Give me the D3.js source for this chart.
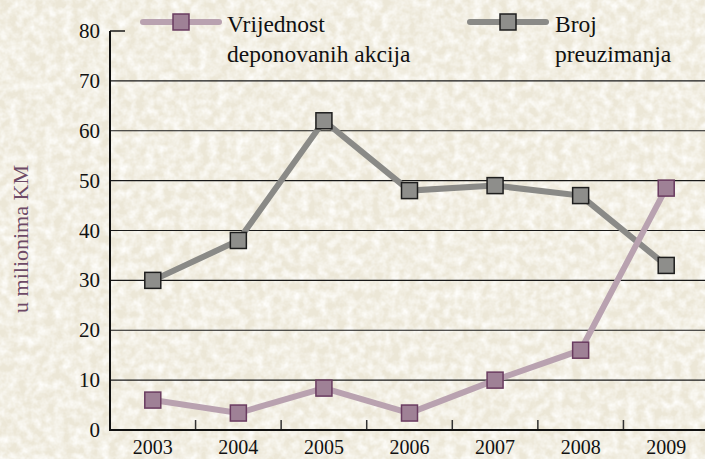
<!DOCTYPE html>
<html>
<head>
<meta charset="utf-8">
<script src="https://cdn.jsdelivr.net/npm/d3@7"></script>
<style>
  body { margin: 0; background: #eee9d9; }
  svg { display: block; }
  text { font-family: "Liberation Serif", "DejaVu Serif", serif; }
</style>
</head>
<body>
<svg id="chart" width="705" height="459"></svg>
<script>
// chart data
var years = ["2003", "2004", "2005", "2006", "2007", "2008", "2009"];
var vrijednost = [6, 3.4, 8.4, 3.4, 10, 16, 48.5];
var broj = [30, 38, 62, 48, 49, 47, 33];
var yTicks = [0, 10, 20, 30, 40, 50, 60, 70, 80];

var svg = d3.select("#chart");

// textured paper background
var defs = svg.append("defs");
var f = defs.append("filter").attr("id", "paper")
    .attr("x", 0).attr("y", 0).attr("width", "100%").attr("height", "100%");
f.append("feTurbulence")
    .attr("type", "fractalNoise")
    .attr("baseFrequency", 0.11)
    .attr("numOctaves", 3)
    .attr("seed", 4)
    .attr("result", "noise");
f.append("feColorMatrix")
    .attr("in", "noise")
    .attr("type", "matrix")
    .attr("values", "0 0 0 0 0.99  0 0 0 0 0.985  0 0 0 0 0.96  0 0 0 1.8 -0.55");

svg.append("rect").attr("width", 705).attr("height", 459).attr("fill", "#ece7d7");
svg.append("rect").attr("width", 705).attr("height", 459).attr("filter", "url(#paper)");

//scales
var x = d3.scaleBand().domain(years).range([110, 709]);
var y = d3.scaleLinear().domain([0, 80]).range([430, 31]);

//gridlines
svg.selectAll(".grid")
    .data(yTicks.filter(d => d > 0 && d < 80)).enter()
    .append("line")
    .attr("x1", 110).attr("x2", 705)
    .attr("y1", d => y(d)).attr("y2", d => y(d))
    .attr("stroke", "#1a1a1a")
    .attr("stroke-width", 1.2);

//short top tick
svg.append("line")
    .attr("x1", 110).attr("x2", 125)
    .attr("y1", y(80)).attr("y2", y(80))
    .attr("stroke", "#1a1a1a").attr("stroke-width", 1.5);

//x ticks between categories
svg.selectAll(".xtick")
    .data(years.slice(1)).enter()
    .append("line")
    .attr("x1", d => x(d)).attr("x2", d => x(d))
    .attr("y1", 420).attr("y2", 430)
    .attr("stroke", "#333").attr("stroke-width", 1.5);

//axes lines
svg.append("line")
    .attr("x1", 110).attr("x2", 110)
    .attr("y1", y(80)).attr("y2", y(0) + 1)
    .attr("stroke", "#111").attr("stroke-width", 2);
svg.append("line")
    .attr("x1", 109).attr("x2", 705)
    .attr("y1", y(0)).attr("y2", y(0))
    .attr("stroke", "#111").attr("stroke-width", 2);

//y tick labels
svg.selectAll(".ylab")
    .data(yTicks).enter()
    .append("text")
    .attr("x", 100)
    .attr("y", d => y(d) + 7)
    .attr("text-anchor", "end")
    .attr("font-size", 21)
    .attr("fill", "#111")
    .text(d => d);

//x tick labels
svg.selectAll(".xlab")
    .data(years).enter()
    .append("text")
    .attr("x", d => x(d) + x.bandwidth() / 2)
    .attr("y", 454)
    .attr("text-anchor", "middle")
    .attr("font-size", 20)
    .attr("fill", "#111")
    .text(d => d);

//y axis title
svg.append("text")
    .attr("transform", "translate(28,239) rotate(-90)")
    .attr("text-anchor", "middle")
    .attr("font-size", 22)
    .attr("fill", "#6e4a66")
    .text("u milionima KM");

var series = [
    {values: broj, line: "#8a8a87", fill: "#8e8e8b", stroke: "#1e1e1e"},
    {values: vrijednost, line: "#b9a2b0", fill: "#9f8196", stroke: "#6a3c60"}
];

var line = d3.line()
    .x((d, i) => x(years[i]) + x.bandwidth() / 2)
    .y(d => y(d));

series.forEach(s => {
    svg.append("path")
        .datum(s.values)
        .attr("d", line)
        .attr("fill", "none")
        .attr("stroke", s.line)
        .attr("stroke-width", 6);
    svg.selectAll(null)
        .data(s.values).enter()
        .append("rect")
        .attr("x", (d, i) => x(years[i]) + x.bandwidth() / 2 - 8)
        .attr("y", d => y(d) - 8)
        .attr("width", 16).attr("height", 16)
        .attr("fill", s.fill)
        .attr("stroke", s.stroke)
        .attr("stroke-width", 1.5);
});

//legend
var legend = [
    {x: 143, tx: 227, lines: ["Vrijednost", "deponovanih akcija"], s: series[1]},
    {x: 470, tx: 555, lines: ["Broj", "preuzimanja"], s: series[0]}
];
legend.forEach(l => {
    svg.append("line")
        .attr("x1", l.x).attr("x2", l.x + 76)
        .attr("y1", 22).attr("y2", 22)
        .attr("stroke", l.s.line).attr("stroke-width", 6)
        .attr("stroke-linecap", "round");
    svg.append("rect")
        .attr("x", l.x + 30).attr("y", 14)
        .attr("width", 16).attr("height", 16)
        .attr("fill", l.s.fill)
        .attr("stroke", l.s.stroke).attr("stroke-width", 1.5);
    l.lines.forEach((t, i) => {
        svg.append("text")
            .attr("x", l.tx)
            .attr("y", 32 + i * 30)
            .attr("font-size", 23.5)
            .attr("fill", "#111")
            .text(t);
    });
});
</script>
</body>
</html>
